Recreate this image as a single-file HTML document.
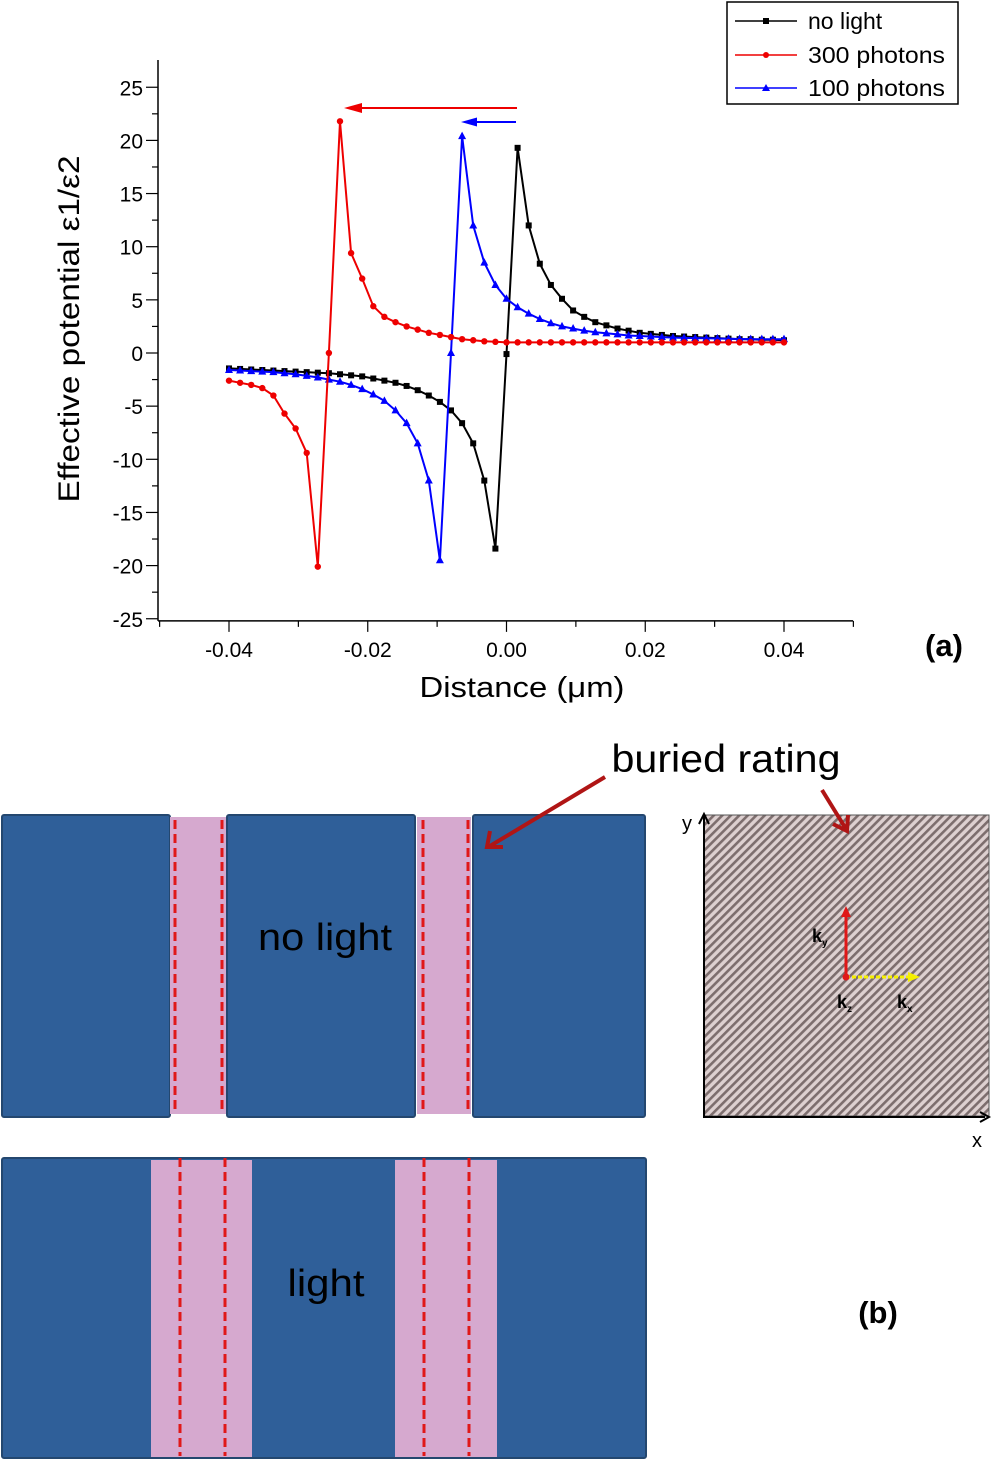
<!DOCTYPE html>
<html><head><meta charset="utf-8"><style>
body{margin:0;background:#fff;width:992px;height:1460px;overflow:hidden;font-family:"Liberation Sans",sans-serif}
svg{position:absolute;left:0;top:0}
</style></head><body>
<svg id="chart" width="992" height="1460">
<defs>
<pattern id="hatch" width="6" height="6" patternUnits="userSpaceOnUse" patternTransform="rotate(45)">
<rect width="6" height="6" fill="#ddd0d0"/><rect width="2.6" height="6" fill="#7d6e6e"/>
</pattern>
</defs>
<g id="plot"></g>
<g id="axes"></g>

<text x="0" y="0" transform="translate(79,329) rotate(-90)" text-anchor="middle" font-size="30" textLength="347" lengthAdjust="spacingAndGlyphs">Effective potential ε1/ε2</text>
<text x="522" y="697" text-anchor="middle" font-size="29" textLength="205" lengthAdjust="spacingAndGlyphs">Distance (μm)</text>
<text x="944" y="656" text-anchor="middle" font-size="31" font-weight="bold">(a)</text>

<g>
<rect x="727" y="2" width="231" height="102" fill="#fff" stroke="#000" stroke-width="1.5"/>
<g><line x1="735" y1="21" x2="797" y2="21" stroke="#000" stroke-width="1.5"/><rect x="763" y="18" width="6" height="6" fill="#000"/><text x="808" y="29" font-size="23">no light</text></g>
<g><line x1="735" y1="55" x2="797" y2="55" stroke="#e00" stroke-width="1.5"/><circle cx="766" cy="55" r="3" fill="#e00"/><text x="808" y="63" font-size="23" textLength="137" lengthAdjust="spacingAndGlyphs">300 photons</text></g>
<g><line x1="735" y1="88" x2="797" y2="88" stroke="#00f" stroke-width="1.5"/><path d="M766,84 L770,91 L762,91 z" fill="#00f"/><text x="808" y="96" font-size="23" textLength="137" lengthAdjust="spacingAndGlyphs">100 photons</text></g>
</g>

<g><line x1="517" y1="108" x2="356" y2="108" stroke="#e00" stroke-width="2"/><path d="M344,108 L362,103 L362,113 z" fill="#e00"/></g>
<g><line x1="516" y1="122" x2="470" y2="122" stroke="#00f" stroke-width="2"/><path d="M461,122 L477,117.5 L477,126.5 z" fill="#00f"/></g>

<!-- panel b -->
<g>
<rect x="2" y="815" width="168" height="302" fill="#2f5f99" stroke="#24476f" stroke-width="2" rx="2"/>
<rect x="170" y="817" width="57" height="297" fill="#d6a9cf"/>
<rect x="227" y="815" width="188" height="302" fill="#2f5f99" stroke="#24476f" stroke-width="2" rx="2"/>
<rect x="417" y="817" width="54" height="297" fill="#d6a9cf"/>
<rect x="473" y="815" width="172" height="302" fill="#2f5f99" stroke="#24476f" stroke-width="2" rx="2"/>
<g stroke="#e01818" stroke-width="3" stroke-dasharray="9,5">
<line x1="175" y1="820" x2="175" y2="1111"/><line x1="222" y1="820" x2="222" y2="1111"/>
<line x1="423" y1="820" x2="423" y2="1111"/><line x1="468" y1="820" x2="468" y2="1111"/>
</g>
<text x="325" y="950" text-anchor="middle" font-size="38" textLength="134" lengthAdjust="spacingAndGlyphs">no light</text>
</g>
<g>
<rect x="2" y="1158" width="644" height="300" fill="#2f5f99" stroke="#24476f" stroke-width="2" rx="2"/>
<rect x="151" y="1160" width="101" height="297" fill="#d6a9cf"/>
<rect x="395" y="1160" width="102" height="297" fill="#d6a9cf"/>
<g stroke="#e01818" stroke-width="3" stroke-dasharray="9,5">
<line x1="180" y1="1158" x2="180" y2="1456"/><line x1="225" y1="1158" x2="225" y2="1456"/>
<line x1="424" y1="1158" x2="424" y2="1456"/><line x1="469" y1="1158" x2="469" y2="1456"/>
</g>
<text x="326" y="1296" text-anchor="middle" font-size="38" textLength="77" lengthAdjust="spacingAndGlyphs">light</text>
</g>
<text x="726" y="772" text-anchor="middle" font-size="39" textLength="229" lengthAdjust="spacingAndGlyphs">buried rating</text>
<g fill="none" stroke="#b01515" stroke-width="4">
<line x1="605" y1="777" x2="490" y2="846"/><path d="M490,831 L487,847 L503,847" stroke-width="4"/></g>
<g>
<rect x="704" y="815" width="285" height="301" fill="url(#hatch)" stroke="#555" stroke-width="1"/>
<line x1="704" y1="1117" x2="704" y2="816" stroke="#000" stroke-width="2"/>
<line x1="703" y1="1117" x2="985" y2="1117" stroke="#000" stroke-width="2"/>
<path d="M699,824 L704,814 L709,824" fill="none" stroke="#000" stroke-width="2"/>
<path d="M980,1112 L989,1117 L980,1122" fill="none" stroke="#000" stroke-width="2"/>
<text x="682" y="830" font-size="20">y</text>
<text x="972" y="1147" font-size="20">x</text>
<line x1="846" y1="977" x2="846" y2="912" stroke="#e01818" stroke-width="3"/><path d="M841,917 L846,906 L851,917 z" fill="#e01818"/>
<line x1="846" y1="977" x2="910" y2="977" stroke="#f5f000" stroke-width="3" stroke-dasharray="4,2"/><path d="M908,972 L920,977 L908,982 z" fill="#f5f000"/>
<circle cx="846" cy="977" r="3.5" fill="#e01818"/>
<text x="812" y="942" font-size="18" font-weight="bold">k<tspan font-size="10" dy="4">y</tspan></text>
<text x="837" y="1008" font-size="18" font-weight="bold">k<tspan font-size="10" dy="4">z</tspan></text>
<text x="897" y="1008" font-size="18" font-weight="bold">k<tspan font-size="10" dy="4">x</tspan></text>
</g>
<g fill="none" stroke="#b01515" stroke-width="4">
<line x1="822" y1="790" x2="846" y2="829"/><path d="M848,815 L847,831 L833,824"/></g>
<text x="878" y="1323" text-anchor="middle" font-size="31" font-weight="bold">(b)</text>
</svg>
<script>
const xTicks=[-0.04,-0.02,0.00,0.02,0.04];
const xTickLabels=["-0.04","-0.02","0.00","0.02","0.04"];
const yTicks=[25,20,15,10,5,0,-5,-10,-15,-20,-25];
const xStart=-0.04, xStep=0.0016;
const noLight=[-1.45,-1.5,-1.55,-1.6,-1.65,-1.7,-1.75,-1.8,-1.85,-1.9,-2.0,-2.1,-2.2,-2.4,-2.6,-2.8,-3.1,-3.5,-4.0,-4.6,-5.4,-6.6,-8.5,-12,-18.4,-0.1,19.3,12.0,8.4,6.4,5.1,4.0,3.4,2.9,2.6,2.3,2.1,1.9,1.8,1.7,1.6,1.55,1.5,1.45,1.4,1.35,1.3,1.3,1.25,1.25,1.2];
const photons300=[-2.6,-2.8,-3.0,-3.3,-4.0,-5.7,-7.1,-9.4,-20.1,0,21.8,9.4,7.0,4.4,3.4,2.9,2.5,2.2,1.9,1.7,1.5,1.3,1.2,1.1,1.05,1.0,1.0,1.0,1.0,1.0,1.0,1.0,1.0,1.0,1.0,1.0,1.0,1.0,1.0,1.0,1.0,1.0,1.0,1.0,1.0,1.0,1.0,1.0,1.0,1.0,1.0];
const photons100=[-1.6,-1.65,-1.7,-1.75,-1.8,-1.9,-2.0,-2.15,-2.3,-2.5,-2.7,-3.0,-3.4,-3.9,-4.5,-5.4,-6.6,-8.5,-12,-19.5,0,20.4,12,8.5,6.4,5.1,4.3,3.7,3.2,2.8,2.5,2.3,2.1,1.95,1.85,1.75,1.65,1.6,1.55,1.5,1.45,1.42,1.4,1.38,1.36,1.34,1.32,1.31,1.3,1.3,1.3];
const NS='http://www.w3.org/2000/svg';
const X=v=>506.5+v*6937.5;
const Y=v=>353-v*10.63;
function mk(t,a,p){const e=document.createElementNS(NS,t);for(const k in a)e.setAttribute(k,a[k]);p.appendChild(e);return e;}
const ax=document.getElementById('axes');
mk('line',{x1:158,y1:Y(-25.2),x2:158,y2:60,stroke:'#000','stroke-width':1.5},ax);
mk('line',{x1:158,y1:Y(-25.2),x2:853,y2:Y(-25.2),stroke:'#000','stroke-width':1.5},ax);
yTicks.forEach(v=>{
 const t=mk('line',{x1:146,y1:Y(v),x2:158,y2:Y(v),stroke:'#000','stroke-width':1.2},ax);
 
 
 const m=mk('line',{x1:152,y1:Y(v-2.5),x2:158,y2:Y(v-2.5),stroke:'#000','stroke-width':1.2},ax);
 if(v-2.5<-25)m.remove();
 const l=mk('text',{x:143,y:Y(v)+8,'text-anchor':'end','font-size':21},ax);
 l.textContent=v;
 
 
});
xTicks.forEach((v,i)=>{
 const y0=Y(-25.2);
 const t=mk('line',{x1:X(v),y1:y0,x2:X(v),y2:y0+11,stroke:'#000','stroke-width':1.2},ax);
 
 
 mk('line',{x1:X(v-0.01),y1:y0,x2:X(v-0.01),y2:y0+6,stroke:'#000','stroke-width':1.2},ax);
 if(i==xTicks.length-1)mk('line',{x1:X(v+0.01),y1:y0,x2:X(v+0.01),y2:y0+6,stroke:'#000','stroke-width':1.2},ax);
 const l=mk('text',{x:X(v),y:y0+36,'text-anchor':'middle','font-size':21},ax);
 l.textContent=xTickLabels[i];
 
 
});
const plot=document.getElementById('plot');
function series(data,color,shape,name){
 const g=mk('g',{},plot);
 
 
 const pts=data.map((v,i)=>X(xStart+i*xStep).toFixed(1)+','+Y(v).toFixed(1)).join(' ');
 mk('polyline',{points:pts,fill:'none',stroke:color,'stroke-width':2},g);
 data.forEach((v,i)=>{
  const x=X(xStart+i*xStep),y=Y(v);let m;
  if(shape=='sq')m=mk('rect',{x:x-3,y:y-3,width:6,height:6,fill:color},g);
  else if(shape=='c')m=mk('circle',{cx:x,cy:y,r:3.2,fill:color},g);
  else m=mk('path',{d:`M${x},${y-4.5} L${x+4},${y+3} L${x-4},${y+3} z`,fill:color},g);
  
  
 });
}
series(noLight,'#000','sq','series-no-light');
series(photons100,'#00f','t','series-100-photons');
series(photons300,'#e00','c','series-300-photons');
</script>
</body></html>
